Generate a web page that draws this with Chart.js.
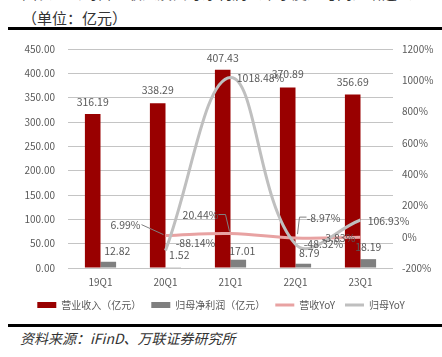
<!DOCTYPE html>
<html><head><meta charset="utf-8">
<script src="https://cdn.jsdelivr.net/npm/chart.js@4.4.0/dist/chart.umd.min.js"></script>
<style>
html,body{margin:0;padding:0;background:#fff;width:442px;height:357px;overflow:hidden;}
#wrap{position:relative;width:442px;height:357px;overflow:hidden;}
.cut{position:absolute;left:22px;top:-17px;font:15px "Noto Sans CJK SC";line-height:20px;color:#333;white-space:nowrap;}
.unit{position:absolute;left:22px;top:8px;font:15px "Noto Sans CJK SC";line-height:20px;color:#333;white-space:nowrap;}
.rule{position:absolute;left:8px;width:434px;height:3px;background:#000;}
.src{position:absolute;left:20px;top:329px;font:italic 14px "Noto Sans CJK SC";line-height:18px;color:#333;white-space:nowrap;}
#cv{position:absolute;left:0;top:30px;}
</style></head>
<body><div id="wrap">
<div class="cut">图表：公司营业收入及归母净利润（单季度）与同比增速（2019Q1-2023Q1）</div>
<div class="unit">（单位：亿元）</div>
<div class="rule" style="top:27px"></div>
<canvas id="cv" width="442" height="290"></canvas>
<div class="rule" style="top:324px"></div>
<div class="src">资料来源：iFinD、万联证券研究所</div>
</div>
<script>
const categories = ['19Q1','20Q1','21Q1','22Q1','23Q1'];
const revenue = [316.19, 338.29, 407.43, 370.89, 356.69];
const netProfit = [12.82, 1.52, 17.01, 8.79, 18.19];
const revenueYoY = [null, 6.99, 20.44, -8.97, -3.83];
const profitYoY = [null, -88.14, 1018.48, -48.32, 106.93];
const seriesNames = ['营业收入（亿元）', '归母净利润（亿元）', '营收YoY', '归母YoY'];
const leftAxis = {min: 0, max: 450, step: 50};
const rightAxis = {min: -200, max: 1200, step: 200};

const FONT = '"Noto Sans CJK SC", "Noto Sans", sans-serif';
const TXT = '#595959';

// label placement styles (offsets from the drawn element)
const labelStyles = [
  {fmt: v => v.toFixed(2), offs: [{dx:0,dy:-12},{dx:0,dy:-13},{dx:0,dy:-12},{dx:0,dy:-13},{dx:0,dy:-12}]},
  {fmt: v => v.toFixed(2), offs: [{dx:9,dy:-11},{dx:6,dy:-12},{dx:4,dy:-9},{dx:6,dy:-11},{dx:0,dy:-12}]},
  {fmt: v => v.toFixed(2) + '%', offs: [null,
     {dx:-40,dy:-11, leader:[[-24,-11],[-2,-1]]},
     {dx:-30,dy:-19, leader:[[-12,-19],[-5,-19],[-1,-2]]},
     {dx:28,dy:-20, leader:[[11,-21],[4,-21],[2,-4]]},
     {dx:-22,dy:1}]},
  {fmt: v => v.toFixed(2) + '%', offs: [null,
     {dx:30,dy:-7},{dx:30,dy:1},{dx:28,dy:0},{dx:28,dy:1}]}
];

const valueLabels = {
  id: 'valueLabels',
  afterDatasetsDraw(chart) {
    const ctx = chart.ctx;
    ctx.save();
    ctx.font = '10.5px ' + FONT;
    ctx.textAlign = 'center';
    ctx.textBaseline = 'middle';
    chart.data.datasets.forEach((ds, di) => {
      const meta = chart.getDatasetMeta(di);
      const st = labelStyles[di];
      meta.data.forEach((el, i) => {
        const v = ds.data[i];
        if (v === null || v === undefined) return;
        const o = st.offs[i];
        if (!o) return;
        if (o.leader) {
          ctx.strokeStyle = '#808080';
          ctx.lineWidth = 1;
          ctx.beginPath();
          o.leader.forEach((p, k) => {
            if (k === 0) ctx.moveTo(el.x + p[0], el.y + p[1]);
            else ctx.lineTo(el.x + p[0], el.y + p[1]);
          });
          ctx.stroke();
        }
        ctx.fillStyle = TXT;
        ctx.fillText(st.fmt(v), el.x + o.dx, el.y + o.dy);
      });
    });
    ctx.restore();
  }
};

const chart = new Chart(document.getElementById('cv'), {
  data: {
    labels: categories,
    datasets: [
      {type:'bar', label: seriesNames[0], data: revenue, backgroundColor:'#990000', yAxisID:'y', order:2,
       barPercentage:1, categoryPercentage:0.48},
      {type:'bar', label: seriesNames[1], data: netProfit, backgroundColor:'#7f7f7f', yAxisID:'y', order:2,
       barPercentage:1, categoryPercentage:0.48},
      {type:'line', label: seriesNames[2], data: revenueYoY, borderColor:'#E8A2A2', backgroundColor:'#E8A2A2',
       borderWidth:3, pointRadius:0, tension:0.4, yAxisID:'y1', order:1},
      {type:'line', label: seriesNames[3], data: profitYoY, borderColor:'#BFBFBF', backgroundColor:'#BFBFBF',
       borderWidth:3, pointRadius:0, tension:0.4, yAxisID:'y1', order:0}
    ]
  },
  options: {
    responsive:false, animation:false,
    layout:{padding:{top:12,left:0,right:0,bottom:0}},
    plugins:{
      tooltip:{enabled:false},
      legend:{
        position:'bottom',
        labels:{
          usePointStyle:true, pointStyleWidth:19, boxHeight:6, padding:10,
          color:TXT, font:{family:FONT, size:10},
          generateLabels(c){
            return c.data.datasets.map((ds,i)=>({
              text: ds.label,
              fillStyle: ds.backgroundColor,
              strokeStyle: ds.type==='line' ? ds.borderColor : ds.backgroundColor,
              lineWidth: ds.type==='line' ? 3 : 0,
              pointStyle: ds.type==='line' ? 'line' : 'rect',
              hidden:false, datasetIndex:i, fontColor:TXT
            }));
          }
        }
      }
    },
    scales:{
      x:{
        grid:{display:false, drawTicks:false}, border:{display:false},
        ticks:{color:TXT, font:{family:FONT,size:10}, padding:8},
        afterFit(s){ s.height = 22; }
      },
      y:{
        position:'left', min:leftAxis.min, max:leftAxis.max,
        ticks:{stepSize:leftAxis.step, color:TXT, font:{family:FONT,size:10}, padding:13,
               callback:v=>v.toFixed(2)},
        grid:{color:'#C4C4C4', lineWidth:1, drawTicks:false}, border:{display:false},
        afterFit(s){ s.width = 68; }
      },
      y1:{
        position:'right', min:rightAxis.min, max:rightAxis.max,
        ticks:{stepSize:rightAxis.step, color:TXT, font:{family:FONT,size:10}, padding:9,
               callback:v=>v+'%'},
        grid:{display:false, drawTicks:false}, border:{display:false},
        afterFit(s){ s.width = 49; }
      }
    }
  },
  plugins:[valueLabels]
});
</script>
</body></html>
